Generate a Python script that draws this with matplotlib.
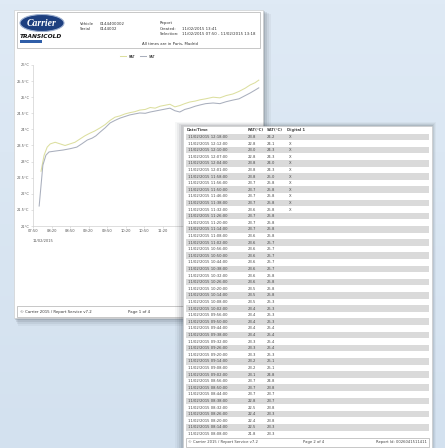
import numpy as np
import matplotlib
matplotlib.use("Agg")
import matplotlib.pyplot as plt
from matplotlib.patches import Rectangle, Ellipse

# chart data (minutes after 07:50)
minutes_sat = [10, 16, 21, 26, 37, 49, 60, 71, 79, 88, 96, 102, 109, 117, 125, 133, 141, 149,
               157, 165, 173, 182, 190, 198, 206, 214, 222, 230, 238, 246, 254, 263, 271, 280,
               292, 303, 313, 324, 334, 344, 352, 360, 366]
sat = [21.62, 22.89, 23.2, 23.30, 23.33, 23.36, 23.40, 23.45, 23.55, 23.67, 23.73, 23.80, 23.92,
       24.05, 24.20, 24.28, 24.35, 24.40, 24.45, 24.48, 24.51, 24.50, 24.54, 24.57, 24.60, 24.63,
       24.66, 24.58, 24.54, 24.62, 24.66, 24.72, 24.76, 24.80, 24.82, 24.80, 24.86, 24.91, 24.95,
       25.05, 25.13, 25.22, 25.29]
minutes_rat = [13, 18, 23, 28, 36, 44, 52, 60, 68, 76, 84, 92, 100, 109, 117, 125, 133, 141, 149,
               157, 165, 173, 182, 190, 198, 206, 214, 222, 230, 238, 246, 254, 263, 271, 280,
               292, 303, 313, 324, 334, 344, 352, 360, 366]
rat = [22.7, 23.2, 23.45, 23.55, 23.60, 23.55, 23.50, 23.55, 23.60, 23.70, 23.80, 23.88, 23.95,
       24.05, 24.15, 24.28, 24.38, 24.42, 24.48, 24.52, 24.55, 24.60, 24.62, 24.68, 24.66, 24.72,
       24.75, 24.78, 24.70, 24.74, 24.80, 24.85, 24.88, 24.92, 24.95, 25.0, 24.98, 25.05, 25.10,
       25.18, 25.28, 25.38, 25.45, 25.53]
# only the ticks not hidden behind page 2
x_ticks = [0, 30, 60, 90, 120, 150, 180, 210]
x_labels = ["07:50", "08:20", "08:50", "09:20", "09:50", "10:20", "10:50", "11:20"]
y_ticks = [21, 21.5, 22, 22.5, 23, 23.5, 24, 24.5, 25, 25.5, 26]
y_labels = ["21°C", "21.5°C", "22°C", "22.5°C", "23°C", "23.5°C", "24°C", "24.5°C",
            "25°C", "25.5°C", "26°C"]

# table data (page 2)
table_times = ("12:18:00 12:12:00 12:10:00 12:07:00 12:04:00 12:01:00 11:58:00 11:56:00 "
               "11:50:00 11:46:00 11:38:00 11:32:00 11:26:00 11:20:00 11:14:00 11:08:00 "
               "11:02:00 10:56:00 10:50:00 10:44:00 10:38:00 10:32:00 10:26:00 10:20:00 "
               "10:14:00 10:08:00 10:02:00 09:56:00 09:50:00 09:44:00 09:38:00 09:32:00 "
               "09:26:00 09:20:00 09:14:00 09:08:00 09:02:00 08:56:00 08:50:00 08:44:00 "
               "08:38:00 08:32:00 08:26:00 08:20:00 08:14:00 08:08:00").split()
table_rat = [23.8, 22.8, 23.0, 22.8, 23.8, 23.8, 23.8, 23.7, 23.7, 23.7, 23.7, 23.6, 23.7, 23.7,
             23.7, 23.6, 23.6, 23.6, 23.6, 23.6, 23.6, 23.6, 23.6, 23.5, 23.5, 23.5, 23.4, 23.4,
             23.4, 23.4, 23.4, 23.3, 23.3, 23.3, 23.2, 23.2, 23.1, 23.7, 23.7, 23.7, 22.8, 22.5,
             22.4, 22.4, 22.5, 21.8]
table_sat = [24.2, 24.1, 24.3, 24.3, 24.0, 24.3, 25.0, 25.8, 25.8, 25.8, 25.8, 25.8, 25.8, 25.8,
             25.8, 25.8, 25.7, 25.7, 25.7, 25.7, 25.7, 25.8, 25.8, 25.8, 25.8, 25.3, 25.3, 25.3,
             25.3, 25.4, 25.4, 25.4, 25.4, 25.3, 25.1, 25.1, 24.8, 24.8, 23.8, 23.7, 23.7, 23.8,
             23.3, 23.8, 23.3, 23.3]
table_digital = ["X"] * 12 + [""] * 34

W, H = 445, 448
fig = plt.figure(figsize=(W / 100, H / 100), dpi=100)

# background + page 1
bg = fig.add_axes([0, 0, 1, 1], zorder=0)
bg.set_xlim(0, W)
bg.set_ylim(H, 0)
bg.axis("off")
grad = np.linspace(0, 1, 100)[:, None] * np.ones((1, 100))
bg.imshow(grad, extent=[0, W, H, 0], cmap=matplotlib.colors.LinearSegmentedColormap.from_list(
    "b", ["#dfeaf5", "#d3e1ef"]), aspect="auto", zorder=0)

for i, a in enumerate([0.05, 0.07, 0.1, 0.14]):
    off = 8 - 2 * i
    bg.add_patch(Rectangle((14 + off / 2, 10 + off / 2), 249 + off / 2, 308 + off / 2,
                           color="#303840", alpha=a, lw=0, zorder=1))
bg.add_patch(Rectangle((14, 10), 249, 308, facecolor="white", edgecolor="#c8c8c8", lw=0.4, zorder=2))
bg.add_patch(Rectangle((17, 12), 243, 36, facecolor="none", edgecolor="#b0b0b0", lw=0.5, zorder=3))
bg.add_patch(Ellipse((42, 23), 44, 17, facecolor="#1d3f7f", edgecolor="#9db0d0", lw=0.8, zorder=3))
bg.text(42, 23.5, "Carrier", color="white", fontsize=7, fontstyle="italic", fontweight="bold",
        family="Liberation Serif", ha="center", va="center", zorder=4)
bg.text(20, 37, "TRANSICOLD", color="#111111", fontsize=4.2, fontstyle="italic",
        fontweight="bold", ha="left", va="center", zorder=4)
bg.add_patch(Rectangle((20, 40.5), 22, 2.5, color="#2f5ea8", lw=0, zorder=4))

hdr = dict(fontsize=2.8, color="#333333", va="center", zorder=4)
bg.text(80, 24, "Vehicle", **hdr)
bg.text(100, 24, "0144400002", **hdr)
bg.text(80, 29, "Serial", **hdr)
bg.text(100, 29, "0144002", **hdr)
bg.text(160, 23, "Report", **hdr)
bg.text(160, 28.5, "Created:", **hdr)
bg.text(182, 28.5, "11/02/2015 13:41", **hdr)
bg.text(160, 34, "Selection:", **hdr)
bg.text(182, 34, "11/02/2015 07:50 - 11/02/2015 13:18", **hdr)
bg.text(170, 44, "All times are in Paris, Madrid", ha="center", fontsize=2.8,
        color="#333333", va="center", zorder=4)

bg.add_patch(Rectangle((17, 306), 243, 11, facecolor="none", edgecolor="#b0b0b0", lw=0.5, zorder=3))
bg.text(20, 311.5, "© Carrier 2015 / Report Service v7.2", **hdr)
bg.text(128, 311.5, "Page 1 of 4", **hdr)

# chart on page 1
ax = fig.add_axes([33 / W, 1 - 226 / H, (260 - 33) / W, (226 - 65) / H], zorder=1)
ax.patch.set_alpha(0)
ax.plot(minutes_rat, rat, color="#dcdf9f", lw=0.75, label="RAT")
ax.plot(minutes_sat, sat, color="#a9afbd", lw=0.75, label="SAT")
ax.set_xlim(0, 368)
ax.set_ylim(21, 26)
ax.set_xticks(x_ticks)
ax.set_xticklabels(x_labels)
ax.set_yticks(y_ticks)
ax.set_yticklabels(y_labels)
ax.tick_params(labelsize=2.6, colors="#cccccc", labelcolor="#555555", length=1.5, width=0.4, pad=1)
for s in ["top", "right"]:
    ax.spines[s].set_visible(False)
for s in ["left", "bottom"]:
    ax.spines[s].set_color("#d0d0d0")
    ax.spines[s].set_linewidth(0.5)
ax.legend(loc="lower center", bbox_to_anchor=(0.46, 1.02), ncol=2, fontsize=2.5, frameon=False,
          handlelength=1.8, columnspacing=1.2)
ax.text(0, -0.08, "11/02/2015", transform=ax.transAxes, fontsize=2.6, color="#555555", va="top")

# page 2 (table)
ov = fig.add_axes([0, 0, 1, 1], zorder=2)
ov.patch.set_alpha(0)
ov.set_xlim(0, W)
ov.set_ylim(H, 0)
ov.axis("off")
for i, a in enumerate([0.04, 0.06, 0.08, 0.11]):
    off = 8 - 2 * i
    ov.add_patch(Rectangle((183 - off, 126 - off / 2), 249 + off * 1.5, 330, color="#303840",
                           alpha=a, lw=0, zorder=1))
ov.add_patch(Rectangle((183, 126), 249, 330, facecolor="white", edgecolor="#c8c8c8", lw=0.4, zorder=2))

row_h = 6.6
y0 = 137
tx = dict(fontsize=2.7, color="#444444", va="center", zorder=4)
ov.text(187, 130, "Date/Time", fontweight="bold", **tx)
ov.text(248, 130, "RAT(°C)", fontweight="bold", **tx)
ov.text(267, 130, "SAT(°C)", fontweight="bold", **tx)
ov.text(287, 130, "Digital 1", fontweight="bold", **tx)
for i, t in enumerate(table_times):
    y = y0 + i * row_h
    if i % 2 == 0:
        ov.add_patch(Rectangle((186, y - row_h / 2), 243, row_h, color="#dadada", lw=0, zorder=3))
    ov.text(188, y, "11/02/2015 " + t, **tx)
    ov.text(248, y, f"{table_rat[i]:.1f}", **tx)
    ov.text(267, y, f"{table_sat[i]:.1f}", **tx)
    ov.text(289, y, table_digital[i], **tx)

ov.add_patch(Rectangle((186, 438), 243, 9, facecolor="none", edgecolor="#b0b0b0", lw=0.5, zorder=3))
ov.text(188, 442.5, "© Carrier 2015 / Report Service v7.2", **tx)
ov.text(303, 442.5, "Page 2 of 4", **tx)
ov.text(427, 442.5, "Report Id: 0026041511411", ha="right", fontsize=2.7, color="#444444",
        va="center", zorder=4)

fig.savefig("out.png", dpi=100)
